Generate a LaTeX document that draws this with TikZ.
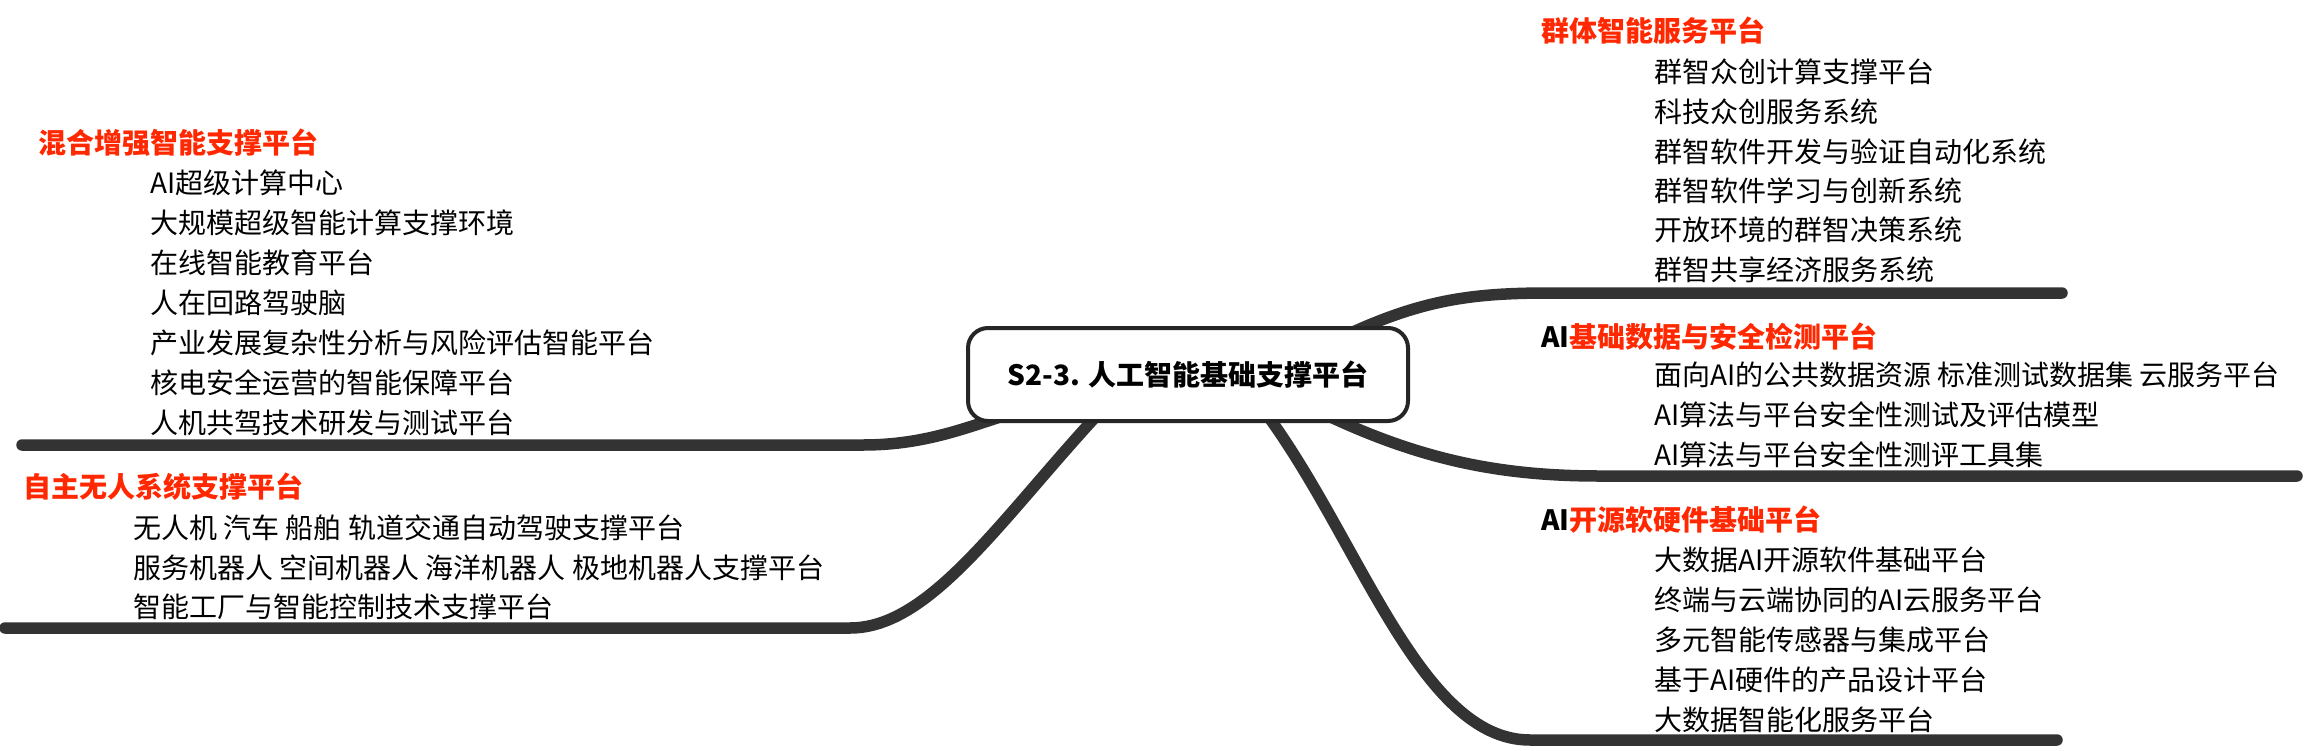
\documentclass[tikz,border=0pt]{standalone}
\usepackage{fontspec}
\setmainfont{Noto Sans CJK SC}
\usetikzlibrary{backgrounds}
\definecolor{branch}{HTML}{333333}
\definecolor{boxborder}{HTML}{262626}
\definecolor{titlered}{RGB}{255,40,0}
\begin{document}
\begin{tikzpicture}[x=1pt,y=-1pt,
  item/.style={anchor=west,inner sep=0pt,font=\fontsize{28}{34}\selectfont,text=black},
  ttl/.style={anchor=west,inner sep=0pt,font=\fontsize{28}{34}\selectfont\bfseries,text=titlered},
  branchline/.style={draw=branch,line width=11.5pt,line cap=round},
  rootbox/.style={draw=boxborder,line width=4pt,rounded corners=20pt,fill=white,minimum width=440pt,minimum height=93pt,inner sep=0pt,font=\fontsize{28}{34}\selectfont\bfseries}]
\useasboundingbox (0,0) rectangle (2304,750);

\node[rootbox] (root) at (1188,374.5) {S2-3. 人工智能基础支撑平台};

% branch 1
\node[ttl] (t1) at (38,143) {混合增强智能支撑平台};
\node[item] (a1) at (150,183) {AI超级计算中心};
\node[item] (a2) at (150,223) {大规模超级智能计算支撑环境};
\node[item] (a3) at (150,263) {在线智能教育平台};
\node[item] (a4) at (150,303) {人在回路驾驶脑};
\node[item] (a5) at (150,343) {产业发展复杂性分析与风险评估智能平台};
\node[item] (a6) at (150,383) {核电安全运营的智能保障平台};
\node[item] (a7) at (150,423) {人机共驾技术研发与测试平台};

% branch 2
\node[ttl] (t2) at (23,487) {自主无人系统支撑平台};
\node[item] (b1) at (133,528) {无人机 汽车 船舶 轨道交通自动驾驶支撑平台};
\node[item] (b2) at (133,568) {服务机器人 空间机器人 海洋机器人 极地机器人支撑平台};
\node[item] (b3) at (133,607) {智能工厂与智能控制技术支撑平台};

% branch 3
\node[ttl] (t3) at (1541,31) {群体智能服务平台};
\node[item] (c1) at (1654,72) {群智众创计算支撑平台};
\node[item] (c2) at (1654,112) {科技众创服务系统};
\node[item] (c3) at (1654,152) {群智软件开发与验证自动化系统};
\node[item] (c4) at (1654,191) {群智软件学习与创新系统};
\node[item] (c5) at (1654,230) {开放环境的群智决策系统};
\node[item] (c6) at (1654,270) {群智共享经济服务系统};

% branch 4
\node[ttl] (t4) at (1541,337) {{\color{black}AI}基础数据与安全检测平台};
\node[item] (d1) at (1654,375) {面向AI的公共数据资源 标准测试数据集 云服务平台};
\node[item] (d2) at (1654,415) {AI算法与平台安全性测试及评估模型};
\node[item] (d3) at (1654,455) {AI算法与平台安全性测评工具集};

% branch 5
\node[ttl] (t5) at (1541,520) {{\color{black}AI}开源软硬件基础平台};
\node[item] (f1) at (1654,560) {大数据AI开源软件基础平台};
\node[item] (f2) at (1654,600) {终端与云端协同的AI云服务平台};
\node[item] (f3) at (1654,640) {多元智能传感器与集成平台};
\node[item] (f4) at (1654,680) {基于AI硬件的产品设计平台};
\node[item] (f5) at (1654,720) {大数据智能化服务平台};

\coordinate (e1) at (22,445);
\coordinate (e2) at (5,628);
\coordinate (e3) at (2062,293);
\coordinate (e4) at (2297,476);
\coordinate (e5) at (2057,740);

\begin{pgfonlayer}{background}
\fill[white] (0,0) rectangle (2304,750);
\draw[branchline] ([xshift=-188pt,yshift=6pt]root.south) .. controls (960,430) and (920,445) .. (863,445) -- (e1);
\draw[branchline] ([xshift=-88pt,yshift=11pt]root.south) .. controls (1000,520) and (930,628) .. (850,628) -- (e2);
\draw[branchline] ([xshift=152pt,yshift=-12pt]root.north) .. controls (1420,300) and (1470,293) .. (1550,293) -- (e3);
\draw[branchline] ([xshift=132pt,yshift=11pt]root.south) .. controls (1420,460) and (1500,476) .. (1600,476) -- (e4);
\draw[branchline] ([xshift=77pt,yshift=11pt]root.south) .. controls (1360,540) and (1420,740) .. (1530,740) -- (e5);
\end{pgfonlayer}
\end{tikzpicture}
\end{document}
